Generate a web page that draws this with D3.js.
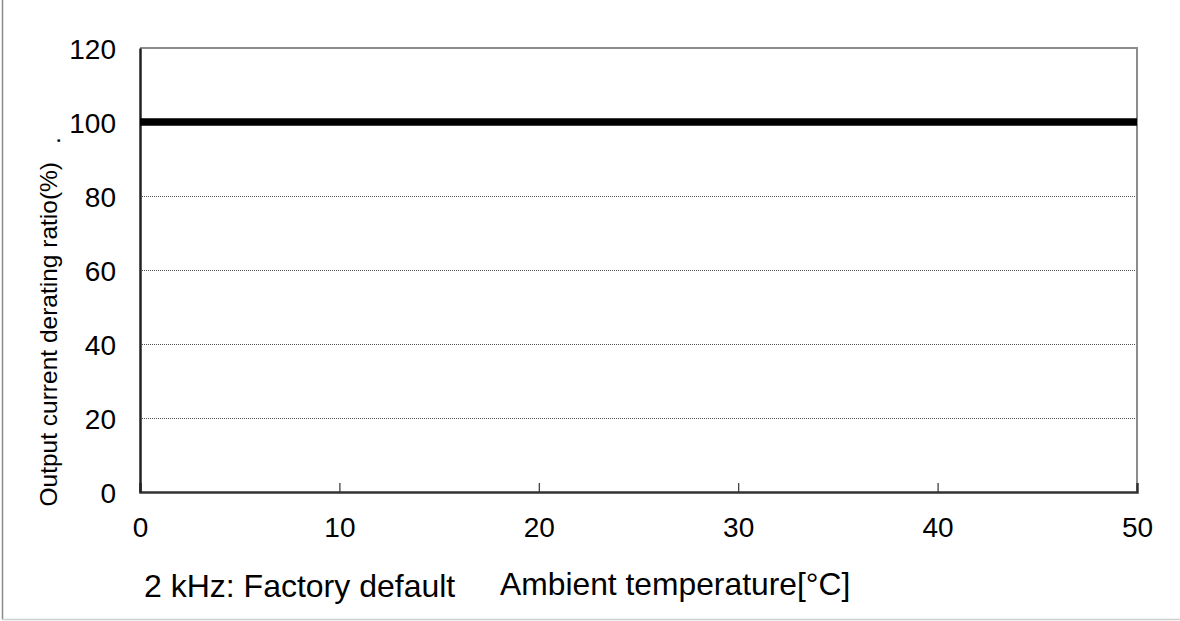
<!DOCTYPE html>
<html>
<head>
<meta charset="utf-8">
<script src="https://cdn.jsdelivr.net/npm/d3@7"></script>
<style>
  html, body { margin: 0; padding: 0; background: #fff; }
  svg { display: block; font-family: "Liberation Sans", Arial, sans-serif; }
</style>
</head>
<body>
<svg id="chart" width="1180" height="621"></svg>
<script>
// ---- data ----
const temperature = [0, 50];
const deratingRatio = [100, 100];
const xTicks = [0, 10, 20, 30, 40, 50];
const yTicks = [0, 20, 40, 60, 80, 100, 120];
const gridValues = [20, 40, 60, 80];
const xLabel = "Ambient temperature[°C]";
const yLabel = "Output current derating ratio(%)";
const noteLabel = "2 kHz: Factory default";

// ---- layout ----
const svg = d3.select("#chart");
const plotL = 140, plotR = 1137, plotT = 48, plotB = 492;

const x = d3.scaleLinear().domain([0, 50]).range([plotL, plotR]);
const y = d3.scaleLinear().domain([0, 120]).range([plotB, plotT]);

// outer frame (left + bottom only)
svg.append("line").attr("x1", 2.5).attr("x2", 2.5).attr("y1", 0).attr("y2", 619.5)
  .attr("stroke", "#8a8a8a").attr("stroke-width", 1.5);
svg.append("line").attr("x1", 2).attr("x2", 1180).attr("y1", 619.5).attr("y2", 619.5)
  .attr("stroke", "#cfcfcf").attr("stroke-width", 1.5);

// gridlines
svg.append("g").selectAll("line").data(gridValues).join("line")
  .attr("x1", plotL).attr("x2", plotR)
  .attr("y1", d => Math.round(y(d)) + 0.5).attr("y2", d => Math.round(y(d)) + 0.5)
  .attr("stroke", "#555").attr("stroke-width", 1).attr("stroke-dasharray", "1,1");

// top and right plot border (gray)
svg.append("path")
  .attr("d", `M${plotL},${plotT}H${plotR}V${plotB}`)
  .attr("fill", "none").attr("stroke", "#8c8c8c").attr("stroke-width", 2);

// x axis (inward ticks)
const xAxis = d3.axisBottom(x).tickValues(xTicks).tickSize(-9).tickPadding(0).tickFormat(d3.format("d"));
const gx = svg.append("g").attr("transform", `translate(0,${plotB})`).call(xAxis);
gx.select(".domain").attr("stroke", "#333").attr("stroke-width", 2.5);
gx.selectAll(".tick line").attr("stroke", "#333").attr("stroke-width", 1.2);
gx.selectAll(".tick text").attr("font-size", 28).attr("fill", "#000")
  .attr("font-family", "Liberation Sans, Arial, sans-serif")
  .attr("dy", null).attr("y", 45);
gx.selectAll(".tick").filter(d => d === 0 || d === 50).select("line").remove();

// y axis
const yAxis = d3.axisLeft(y).tickValues(yTicks).tickSize(0).tickPadding(24).tickFormat(d3.format("d"));
const gy = svg.append("g").attr("transform", `translate(${plotL},0)`).call(yAxis);
gy.select(".domain").attr("stroke", "#222").attr("stroke-width", 2.5);
gy.selectAll(".tick text").attr("font-size", 28).attr("fill", "#000")
  .attr("font-family", "Liberation Sans, Arial, sans-serif")
  .attr("dy", "0.36em");

// data line
const line = d3.line().x(d => x(d[0])).y(d => y(d[1]));
svg.append("path")
  .datum(temperature.map((t, i) => [t, deratingRatio[i]]))
  .attr("d", line)
  .attr("fill", "none").attr("stroke", "#000").attr("stroke-width", 7.5);

// y label (ends at ~y=162, baseline x=57)
svg.append("text")
  .attr("transform", `translate(57,162) rotate(-90)`)
  .attr("text-anchor", "end")
  .attr("font-size", 24.5).attr("fill", "#000")
  .text(yLabel);
svg.append("text")
  .attr("transform", `translate(59.5,144) rotate(-90)`)
  .attr("text-anchor", "start")
  .attr("font-size", 24.5).attr("fill", "#000")
  .text(".");

// bottom labels
svg.append("text").attr("x", 144).attr("y", 597)
  .attr("font-size", 32).attr("fill", "#000").text(noteLabel);
svg.append("text").attr("x", 500).attr("y", 595)
  .attr("font-size", 31.8).attr("fill", "#000").text(xLabel);
</script>
</body>
</html>
